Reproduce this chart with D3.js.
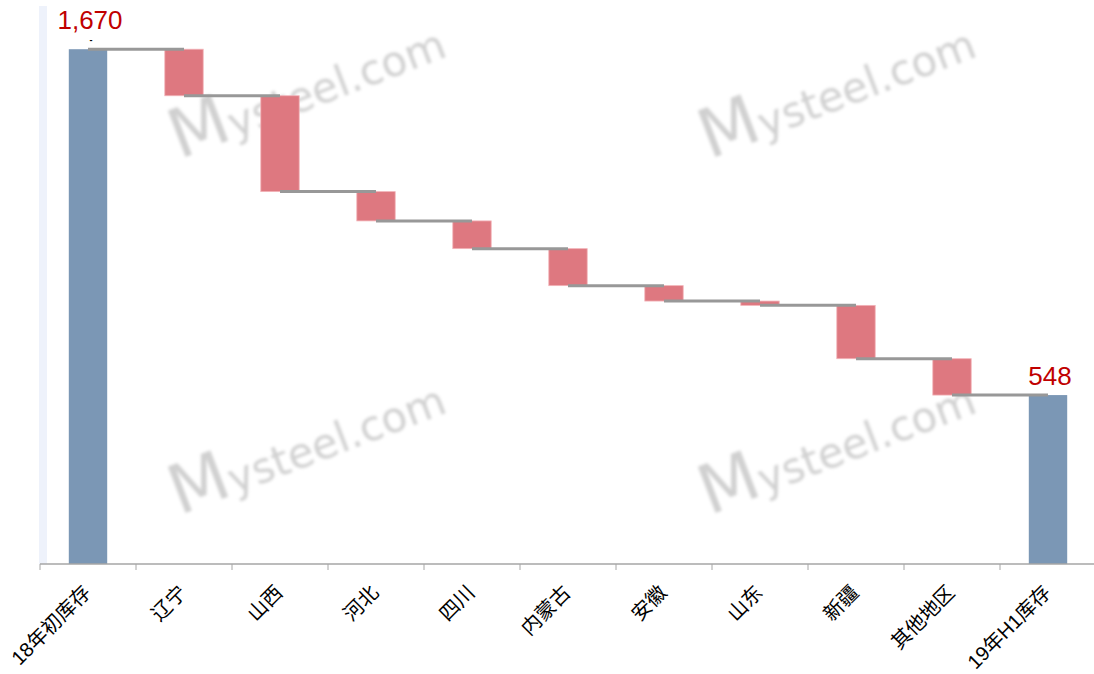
<!DOCTYPE html>
<html>
<head>
<meta charset="utf-8">
<script src="https://cdn.jsdelivr.net/npm/d3@7/dist/d3.min.js"></script>
<style>
  body { margin: 0; background: #fff; }
  svg { display: block; font-family: "Liberation Sans", Arial, "Noto Sans CJK SC", sans-serif; }
</style>
</head>
<body>
<svg id="chart" width="1094" height="674"></svg>
<script>
// categories along the x axis
var categories = ["18年初库存", "辽宁", "山西", "河北", "四川", "内蒙古", "安徽", "山东", "新疆", "其他地区", "19年H1库存"];
// start and end totals
var startTotal = 1670;
var endTotal = 548;
// decreases for each region
var decreases = [151, 311, 95, 90, 120, 50, 14, 173, 118];
// watermark text
var watermark = "Mysteel.com";

var svg = d3.select("#chart"),
    width = 1094,
    left = 40,
    baseY = 564;

// Build waterfall rows: start, each decrease, end
var rows = [];
var level = startTotal;
rows.push({ name: categories[0], from: 0, to: startTotal, total: true, after: startTotal });
decreases.forEach(function (d, i) {
    rows.push({ name: categories[i + 1], from: level - d, to: level, total: false, after: level - d });
    level -= d;
});
rows.push({ name: categories[categories.length - 1], from: 0, to: endTotal, total: true, after: endTotal });

// scales
var xScale = d3.scaleBand()
    .domain(categories)
    .range([left, left + 96 * categories.length])
    .paddingInner(0.6)
    .paddingOuter(0.3);
var yScale = d3.scaleLinear()
    .domain([0, 1800])
    .range([baseY, baseY - 1800 * 0.30826]);

var step = xScale.step();

// pale strip at left edge of the plot
svg.append("rect")
    .attr("x", 39).attr("y", 6)
    .attr("width", 8).attr("height", baseY - 6)
    .attr("fill", "#eef2fb");

// watermarks
var defs = svg.append("defs");
defs.append("filter").attr("id", "blur")
    .append("feGaussianBlur").attr("stdDeviation", 1.5);
var wmSpots = [[312, 102], [842, 102], [312, 458], [842, 458]];
wmSpots.forEach(function (p) {
    var t = svg.append("text")
        .attr("transform", "translate(" + p[0] + "," + p[1] + ") rotate(-21)")
        .attr("text-anchor", "middle")
        .attr("dy", "0.35em")
        .attr("fill", "#d0d0d0")
        .attr("filter", "url(#blur)")
        .style("font-family", "'DejaVu Sans', sans-serif");
    t.append("tspan").attr("font-size", 68).text(watermark.charAt(0));
    t.append("tspan").attr("font-size", 42).text(watermark.slice(1));
});

// bars
svg.append("g").selectAll("rect")
    .data(rows)
    .enter().append("rect")
    .attr("x", function (d) { return xScale(d.name); })
    .attr("width", xScale.bandwidth())
    .attr("y", function (d) { return yScale(d.to); })
    .attr("height", function (d) { return yScale(d.from) - yScale(d.to); })
    .attr("fill", function (d) { return d.total ? "#7b97b5" : "#de7880"; })
    .attr("stroke", function (d) { return d.total ? "none" : "#f2b3b8"; })
    .attr("stroke-width", 0.8);

// connector lines from bar center to next bar center
svg.append("g").selectAll("line")
    .data(rows.slice(0, rows.length - 1))
    .enter().append("line")
    .attr("x1", function (d) { return xScale(d.name) + xScale.bandwidth() / 2; })
    .attr("x2", function (d) { return xScale(d.name) + xScale.bandwidth() / 2 + step; })
    .attr("y1", function (d) { return yScale(d.after); })
    .attr("y2", function (d) { return yScale(d.after); })
    .attr("stroke", "#989898")
    .attr("stroke-width", 3);

// x axis, ticks between categories
var xAxis = d3.axisBottom(xScale).tickSize(6).tickSizeOuter(0).tickFormat("");
var gx = svg.append("g")
    .attr("transform", "translate(0," + baseY + ")")
    .call(xAxis);
gx.select(".domain").attr("stroke", "#a6a6a6").attr("stroke-width", 1.5)
    .attr("d", "M" + left + ",0H" + width);
gx.selectAll(".tick line")
    .attr("stroke", "#a6a6a6")
    .attr("x1", -step / 2).attr("x2", -step / 2);

// rotated category labels
svg.append("g").selectAll("text")
    .data(categories)
    .enter().append("text")
    .attr("transform", function (d) {
        return "translate(" + (xScale(d) + xScale.bandwidth() / 2 - 1) + "," + (baseY + 25) + ") rotate(-45)";
    })
    .attr("text-anchor", "end")
    .attr("dy", "0.35em")
    .attr("font-size", 20)
    .attr("fill", "#000")
    .style("font-family", "'Liberation Sans', 'Noto Sans CJK SC', sans-serif")
    .text(function (d) { return d; });

// value labels on the total bars
var totals = rows.filter(function (d) { return d.total; });
svg.append("g").selectAll("text")
    .data(totals)
    .enter().append("text")
    .attr("x", function (d) { return xScale(d.name) + xScale.bandwidth() / 2 + 2; })
    .attr("y", function (d, i) { return yScale(d.to) - (i === 0 ? 20 : 10); })
    .attr("text-anchor", "middle")
    .attr("font-size", 26)
    .attr("fill", "#c00000")
    .text(function (d) { return d3.format(",")(d.to); });

// small dash label above the first bar
svg.append("text")
    .attr("x", xScale(categories[0]) + xScale.bandwidth() / 2 + 3)
    .attr("y", yScale(startTotal) - 6)
    .attr("text-anchor", "middle")
    .attr("font-size", 9)
    .attr("font-weight", "bold")
    .attr("fill", "#000")
    .text("-");
</script>
</body>
</html>
